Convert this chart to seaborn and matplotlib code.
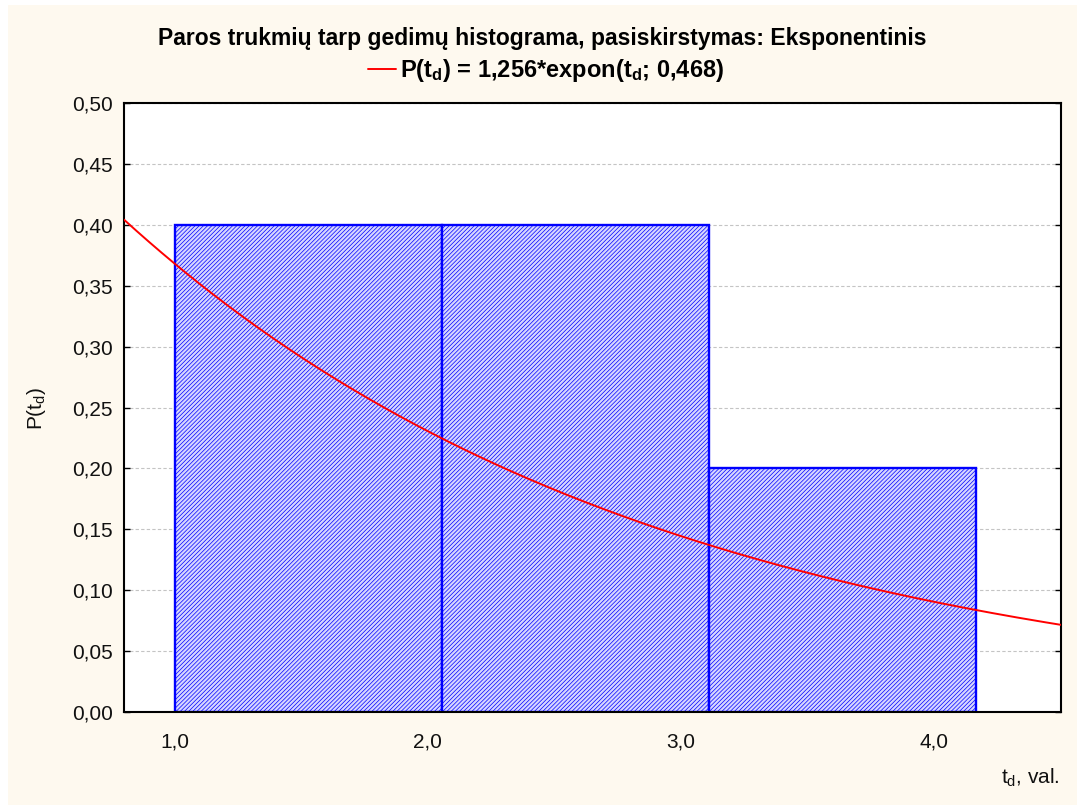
import numpy as np
import pandas as pd
import matplotlib
matplotlib.use("Agg")
import matplotlib.pyplot as plt
import seaborn as sns
from matplotlib.ticker import FuncFormatter, FixedLocator
from matplotlib.lines import Line2D

# ---- data ----
bin_edges = [1.0, 2.055, 3.11, 4.165]
bin_heights = [0.40, 0.40, 0.20]
fit_scale = 1.256
fit_lambda = 0.468
x_ticks = [1.0, 2.0, 3.0, 4.0]
y_ticks = [0.00, 0.05, 0.10, 0.15, 0.20, 0.25, 0.30, 0.35, 0.40, 0.45, 0.50]
title_text = "Paros trukmių tarp gedimų histograma, pasiskirstymas: Eksponentinis"
legend_text = r"P(t$_\mathbf{d}$) = 1,256*expon(t$_\mathbf{d}$; 0,468)"

sns.set_theme(style="white")
plt.rcParams['font.family'] = ['Liberation Sans', 'DejaVu Sans']
plt.rcParams['mathtext.fontset'] = 'custom'
plt.rcParams['mathtext.rm'] = 'Liberation Sans'
plt.rcParams['mathtext.it'] = 'Liberation Sans'
plt.rcParams['mathtext.bf'] = 'Liberation Sans:bold'
plt.rcParams['hatch.color'] = '#7c7cff'
plt.rcParams['hatch.linewidth'] = 0.5

W, H = 1077, 805
fig = plt.figure(figsize=(W / 100, H / 100), dpi=100)
fig.patch.set_facecolor('white')
cream = '#FEF9EF'
fig.patches.append(plt.Rectangle((8 / W, 0), 1, 1 - 5 / H, transform=fig.transFigure,
                                 facecolor=cream, edgecolor='none', zorder=-10))

ax = fig.add_axes([124 / W, (H - 712) / H, (1061 - 124) / W, (712 - 103) / H])
ax.set_facecolor('white')

centers = [(a + b) / 2 for a, b in zip(bin_edges[:-1], bin_edges[1:])]
df = pd.DataFrame({"t": centers, "w": bin_heights})
sns.histplot(data=df, x="t", weights="w", bins=bin_edges, stat="count",
             ax=ax, color='#c4c4ff', alpha=1, edgecolor='#0000ff', linewidth=1.7)
for p in ax.patches:
    p.set_hatch('////////')
    p.set_facecolor('#d6d6ff')
    p.set_edgecolor('#0000ff')
    p.set_zorder(2)

t = np.linspace(0.8, 4.5, 300)
curve = pd.DataFrame({"t": t, "p": fit_scale * fit_lambda * np.exp(-fit_lambda * t)})
sns.lineplot(data=curve, x="t", y="p", ax=ax, color='#ff0000', linewidth=1.4,
             legend=False, zorder=3)

ax.set_xlim(0.8, 4.5)
ax.set_ylim(0, 0.5)
ax.xaxis.set_major_locator(FixedLocator(x_ticks))
ax.yaxis.set_major_locator(FixedLocator(y_ticks))
ax.xaxis.set_major_formatter(FuncFormatter(lambda v, p: f"{v:.1f}".replace('.', ',')))
ax.yaxis.set_major_formatter(FuncFormatter(lambda v, p: f"{v:.2f}".replace('.', ',')))
ax.tick_params(axis='both', direction='in', length=4, width=1, colors='black',
               labelsize=15, labelcolor='#111111')
ax.tick_params(axis='y', right=True, left=True, pad=8)
ax.tick_params(axis='x', bottom=True, pad=15)
ax.grid(axis='y', color='#c4c4c4', linestyle=(0, (3, 2)), linewidth=0.8, zorder=0)
ax.set_axisbelow(True)
for s in ax.spines.values():
    s.set_visible(True)
    s.set_color('black')
    s.set_linewidth(1.5)
ax.set_xlabel("")
ax.set_ylabel("")

# legend line + text (figure header)
fig.add_artist(Line2D([368 / W, 396 / W], [1 - 69 / H, 1 - 69 / H], color='#ff0000',
                      linewidth=1.4, transform=fig.transFigure))
fig.text(400 / W, 1 - 70 / H, legend_text, ha='left', va='center',
         fontsize=17, fontweight='bold', color='black')

fig.text(542 / W, 1 - 38 / H, title_text, ha='center', va='center',
         fontsize=16.5, fontweight='bold', color='black')
fig.text(36 / W, 1 - 408 / H, r"P(t$_d$)", rotation=90, ha='center', va='center',
         fontsize=15, color='#111111')
fig.text(1060 / W, 1 - 778 / H, r"t$_d$, val.", ha='right', va='center',
         fontsize=15, color='#111111')

fig.savefig("out.png", dpi=100, facecolor=fig.get_facecolor())
